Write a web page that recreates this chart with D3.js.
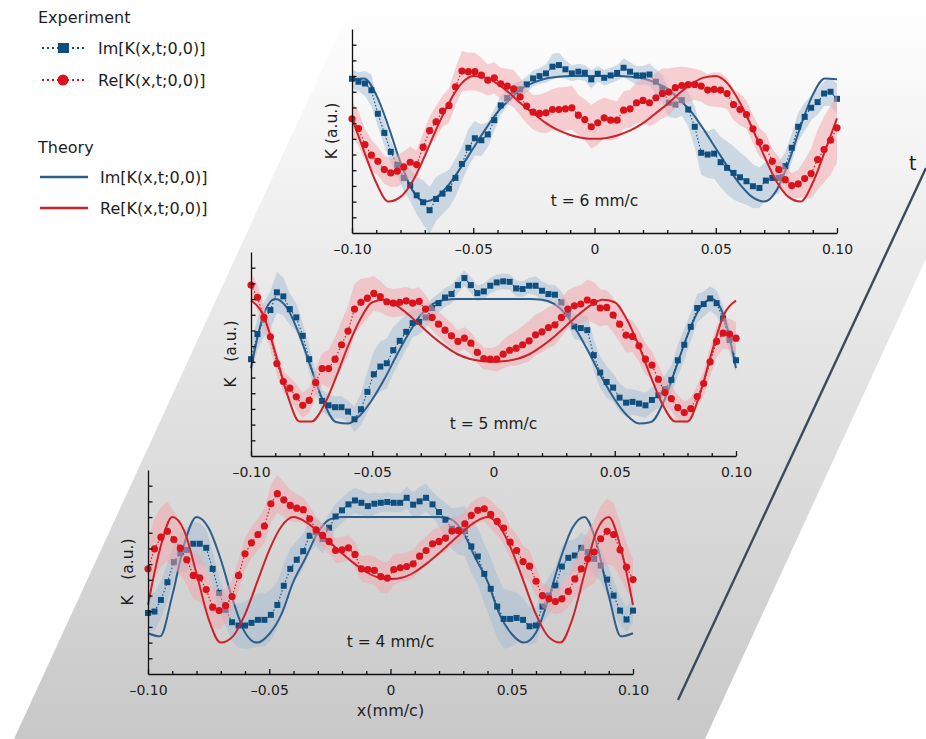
<!DOCTYPE html>
<html>
<head>
<meta charset="utf-8">
<script src="https://cdn.jsdelivr.net/npm/d3@7"></script>
<style>
	body { margin: 0; background: #fff; }
	svg { display: block; font-family: "DejaVu Sans", "Noto Sans", sans-serif; }
</style>
</head>
<body>
<svg id="chart" width="926" height="739"></svg>
<script>
// ****** Data
// experimental points: 76 samples from x = -0.10 to 0.10 mm/c
var panelTimes = [6, 5, 4];
var xTickLabels = [-0.1, -0.05, 0, 0.05, 0.1];
var legendLabels = ['Im[K(x,t;0,0)]', 'Re[K(x,t;0,0)]'];

var imExp6 = [9.83,9.64,9.53,9.1,7.6,6.38,5.17,4.34,3.51,3.04,
	2.4,1.96,1.45,2.17,2.51,2.83,3.51,4.4,5.43,6.04,
	5.91,6.28,7.19,8.13,8.6,9.04,9.15,9.47,9.85,10.0,
	10.17,10.6,10.7,10.43,10.17,10.28,10.21,9.79,10.15,9.89,
	10.04,10.2,10.53,10.28,10.04,10.04,10.1,9.64,9.19,8.3,
	8.19,8.47,7.87,6.77,5.11,5.0,5.06,4.51,4.15,3.83,
	3.55,3.3,2.98,2.87,3.34,3.51,3.51,4.26,5.43,6.77,
	7.4,7.98,8.34,8.89,9.0,8.55];
var reExp6 = [7.28,6.66,5.64,4.96,4.57,4.04,3.83,3.94,4.21,4.51,
	4.36,5.47,6.53,7.09,7.77,8.13,9.32,10.32,10.28,10.28,
	10.06,9.74,9.89,9.51,9.36,9.19,8.68,8.09,7.7,7.62,
	7.66,7.87,7.87,7.91,7.98,7.51,7.23,6.77,7.02,7.34,
	7.19,7.19,7.83,7.91,8.3,8.45,8.3,8.62,8.89,8.98,
	9.26,9.4,9.45,9.47,9.36,9.11,9.15,9.11,8.89,8.19,
	7.87,7.55,6.64,5.79,5.43,4.57,4.04,3.4,3.02,3.13,
	3.47,3.79,4.68,5.32,5.91,6.7];
var imErr6 = [0.6,0.6,0.8,1.0, 0.8,0.8,0.7,0.7,0.8,1.0,
	1.2,1.4,1.5,1.4,1.3,1.2,1.2, 1.1,1.2,1.1,1.0,
	0.8,0.7,0.6,0.5,0.5,0.5,0.5,0.5,0.5,0.6,
	0.8,0.8,0.6,0.5,0.5,0.5,0.6,0.5,0.5,0.5,0.5,0.6,
	0.6,0.6,0.6,0.7,0.8,0.9,0.9,0.9,1.0,1.1,
	1.3,1.4,1.5,1.6,1.6,1.7,1.7,1.6,1.5,1.4,1.3,1.2,1.1,1.0,
	0.9,0.9,0.9,0.9,0.8,0.8,0.8,0.9,1.0];
var reErr6 = [1.1,1.1,1.0,1.0, 0.9,0.9,0.9,1.0,1.0,1.0,0.9,
	0.9,0.9,1.0,1.0,1.1,1.2, 1.3,1.2,1.2,1.1,1.0,1.0,
	1.0,1.1,1.2,1.2,1.1,1.1,1.2,1.3,
	1.3,1.4,1.4,1.4,1.3,1.3,1.4,1.4,1.3,1.3,1.2,1.2,
	1.2,1.3,1.4,1.5,1.6,1.6,1.5,1.3,1.2,1.1,
	1.0,1.0,1.0,1.1,1.1,1.0,1.0,1.0,0.9,
	0.9,0.9,0.9,0.8,0.8,0.8,0.8,0.9,1.2,
	1.6,1.9,2.1,2.2,2.2];

var imExp5 = [6.17,7.77,8.68,9.3,10.43,10.17,9.36,8.83,7.66,6.17,
	4.68,3.51,3.23,3.11,3.11,2.83,2.34,2.98,4.09,5.21,
	5.7,5.91,6.74,7.34,7.91,8.47,8.55,8.83,9.43,9.74,
	10.1,10.32,10.89,11.34,10.89,10.38,10.49,10.85,11.06,11.13,
	11.1,10.68,10.64,10.85,10.85,10.53,10.32,10.28,9.79,9.04,
	8.26,8.15,8.02,6.43,5.32,4.72,4.36,3.72,3.4,3.45,
	3.34,3.23,3.57,3.87,4.26,4.85,6.1,7.09,8.23,9.43,
	9.68,10.04,9.74,8.77,7.4,6.1];
var reExp5 = [10.89,10.11,8.83,7.6,5.89,4.74,4.32,3.77,3.23,3.55,
	4.68,5.57,5.57,6.17,7.09,7.96,9.36,9.79,10.06,10.36,
	10.15,9.83,9.74,9.79,9.89,9.74,9.85,9.36,8.83,8.4,
	8.02,7.66,7.3,7.51,7.19,6.6,6.21,6.17,6.17,6.49,
	6.74,6.87,7.09,7.34,7.72,7.91,8.19,8.36,8.83,9.36,
	9.57,9.68,9.94,9.79,9.43,9.47,8.98,8.4,7.7,7.62,
	7.02,6.17,5.79,4.89,4.04,3.66,3.09,2.77,3.02,3.79,
	4.62,6.0,7.3,7.83,7.77,7.51];
var imErr5 = [1.0,1.0,1.1,1.2, 1.3,1.2,1.0,0.9,0.8,0.8,
	0.7,0.7,0.7,0.7,0.7,0.7,0.8, 1.0,1.3,1.5,1.6,1.6,1.5,1.3,1.1,
	0.9,0.8,0.7,0.6,0.6,0.6,0.6,0.5,0.5,0.5,0.5,0.5,0.5,0.5,0.5,0.5,
	0.5,0.5,0.5,0.6,0.6,0.6,0.6,0.7,0.7,0.8,
	0.8,0.9,1.0,1.0,1.0,0.9,0.9,0.9,0.8,0.8,0.8,0.8,0.8,0.9,0.9,1.0,
	1.0,0.9,0.9,0.8,0.8,0.8,0.8,0.8,0.8];
var reErr5 = [0.8,0.8,0.8,0.8, 0.7,0.7,0.7,0.8,0.8,0.8,
	0.9,1.0,1.2,1.4,1.5,1.6,1.6, 1.5,1.3,1.1,1.0,
	0.9,0.9,0.9,0.9,0.9,0.9,0.9,0.8,0.8,0.8,0.8,
	0.7,0.7,0.7,0.7,0.7,0.7,0.8,0.9,1.0,
	1.1,1.2,1.3,1.3,1.3,1.3,1.3,1.2,1.2,1.2,
	1.2,1.3,1.3,1.2,1.1,1.1,
	1.1,1.1,1.0,1.0,1.0,0.9,0.9,0.9,0.8,0.8,
	0.7,0.7,0.7,0.8,0.9,1.0,1.0,1.0,1.0];

var imExp4 = [3.89,3.98,4.72,5.85,7.13,7.7,7.91,8.3,8.3,8.04,
	6.7,5.17,4.09,3.3,3.09,3.09,3.26,3.45,3.45,3.77,
	4.4,5.62,6.7,7.28,7.83,8.81,9.04,8.6,9.32,10.04,
	10.43,10.81,11.06,10.91,10.7,10.85,10.91,10.96,10.91,10.91,
	11.23,10.79,11.0,11.23,10.81,10.32,9.83,9.26,9.11,9.11,
	8.13,7.49,6.38,5.43,4.3,3.51,3.51,3.57,3.45,3.04,
	3.09,4.3,5.0,5.64,6.85,7.4,7.55,8.04,7.77,7.34,
	6.91,6.02,5.0,4.04,3.47,4.04];
var reExp4 = [6.7,7.98,8.72,9.09,8.57,8.02,7.28,6.28,6.13,5.38,
	4.26,4.04,4.36,4.94,6.28,7.66,8.36,8.89,9.43,10.85,
	11.49,11.1,10.74,10.57,10.47,9.89,9.19,8.83,8.45,7.87,
	7.91,8.04,7.62,6.7,6.66,6.6,6.21,6.11,6.66,6.77,
	6.85,7.02,7.51,7.87,8.3,8.45,8.66,9.11,9.15,9.57,
	10.11,10.43,10.53,10.17,9.72,9.3,8.4,7.87,7.17,6.87,
	5.91,5.0,4.79,4.62,4.79,5.26,6.06,6.7,7.34,7.77,
	8.62,9.09,8.89,7.91,6.81,6.02];
var imErr4 = [1.2,1.2,1.2,1.2, 1.1,1.2,1.4,1.4,1.3,1.2,1.1,1.0,1.0,
	1.2,1.4,1.5,1.6,1.7,1.7,1.6,1.5, 1.4,1.3,1.2,1.1,1.0,
	0.9,0.9,0.9,0.8,0.8,0.8,0.8,0.8,0.8,0.7,
	0.6,0.6,0.6,0.6,0.7,0.8,0.9,0.9,0.8, 0.9,1.1,1.3,1.5,1.6,
	1.7,1.8,1.9,2.0,2.0,1.9,1.8,1.6,1.4,1.2,1.1,
	1.1,1.2,1.2,1.2,1.1,1.0,
	1.0,1.0,1.0,1.0,1.0,1.0,0.9,0.8,0.8];
var reErr4 = [1.8,1.9,1.9,1.9,1.8,1.7, 1.6,1.5,1.5,1.4,1.3,1.2,1.1,
	1.0,1.0,1.0,1.0,1.0, 1.1,1.2,1.2,1.1,1.0,
	0.9,0.8,0.8,0.8,0.8,0.8,0.8,0.8,0.8,0.8,0.8,0.9,0.9,
	1.0,1.0,1.0,0.9,0.9,0.9,0.9,0.9,0.9,
	0.9,0.9,0.9,0.9,0.8,0.8,0.8,0.8,
	0.9,0.9,1.0,1.0,1.0,1.0,1.0,0.9,
	0.8,0.8,0.8,0.9,1.0,1.2,
	1.5,1.8,2.0,2.1,2.1,2.0,1.8,1.5,1.3];

// theory curves: 41 samples, step 0.005 mm/c
var imTheory6 = [9.8,9.85,8.8,6.8,4.5,2.7,2.0,2.3,3.1,4.2,5.4,6.6,7.7,8.5,9.2,9.6,9.85,9.95,10,10,10,
	10,10,9.95,9.85,9.6,9.2,8.5,7.7,6.6,5.4,4.2,3.1,2.3,2.0,2.7,4.5,6.8,8.8,9.85,9.8];
var reTheory6 = [7.3,5.2,3.2,2.0,2.3,3.3,4.9,6.7,8.3,9.5,10.0,9.9,9.5,8.9,8.2,7.6,7.0,6.55,6.25,6.06,6.0,
	6.06,6.25,6.55,7.0,7.6,8.2,8.9,9.5,9.9,10.0,9.5,8.3,6.7,4.9,3.3,2.3,2.0,3.2,5.2,7.3];
var imTheory5 = [5.6,8.9,10.0,9.4,7.7,5.5,3.4,2.17,2.07,2.6,3.6,4.9,6.4,7.8,9.0,9.7,9.95,10,10,10,10,
	10,10,10,9.95,9.7,9.0,7.8,6.4,4.9,3.6,2.6,2.07,2.17,3.4,5.5,7.7,9.4,10.0,8.9,5.6];
var reTheory5 = [9.9,9.0,6.6,3.9,2.2,2.2,3.2,5.0,7.0,8.7,9.8,9.95,9.6,9.0,8.3,7.6,7.0,6.5,6.2,6.05,6.0,
	6.05,6.2,6.5,7.0,7.6,8.3,9.0,9.6,9.95,9.8,8.7,7.0,5.0,3.2,2.2,2.2,3.9,6.6,9.0,9.9];
var imTheory4 = [2.6,2.4,5.0,8.3,10.0,9.3,7.3,4.7,2.65,2.0,2.55,3.8,5.9,7.4,9.0,9.85,10,10,10,10,10,
	10,10,10,10,9.85,9.0,7.4,5.9,3.8,2.55,2.0,2.65,4.7,7.3,9.3,10.0,8.3,5.0,2.4,2.6];
var reTheory4 = [4.4,8.0,10.0,9.1,6.4,3.5,2.0,2.4,3.8,5.85,7.9,9.4,10.0,9.7,9.1,8.4,7.7,7.05,6.5,6.15,6.05,
	6.15,6.5,7.05,7.7,8.4,9.1,9.7,10.0,9.4,7.9,5.85,3.8,2.4,2.0,3.5,6.4,9.1,10.0,8.0,4.4];

// ****** Layout
var svg = d3.select('#chart');
var W = 926, H = 739;
var panelW = 485, panelH = 204;
var panelPos = [
	{left: 352, top: 29},
	{left: 251, top: 252},
	{left: 148, top: 470}
];
var col = {
	imDot: '#0f4f80', imLine: '#2e5e8c', imBand: '#a3bdd3',
	reDot: '#d9121c', reLine: '#d02028', reBand: '#f3a4a9',
	text: '#1e1e1e', axis: '#111'
};

var x = d3.scaleLinear().domain([-0.1, 0.1]).range([0, panelW]);
var y = d3.scaleLinear().domain([0, 13]).range([panelH, 0]);
var expX = d3.range(76).map(function(i) { return -0.1 + i * 0.2 / 75; });
var theoryX = d3.range(41).map(function(i) { return -0.1 + i * 0.005; });

function fmtX(d) {
	if (d === 0) return '0';
	return (d < 0 ? '\u2013' : '') + Math.abs(d).toFixed(2);
}

// ****** Background slab and time axis
var defs = svg.append('defs');
var grad = defs.append('linearGradient').attr('id', 'slab')
	.attr('x1', 0).attr('y1', 0).attr('x2', 0).attr('y2', 1);
grad.append('stop').attr('offset', '0%').attr('stop-color', '#ffffff');
grad.append('stop').attr('offset', '100%').attr('stop-color', '#c8c8c8');

svg.append('polygon')
	.attr('points', [[354, 0], [1045, 0], [705, H], [14, H]].join(' '))
	.attr('fill', 'url(#slab)');

svg.append('line')
	.attr('x1', 678).attr('y1', 700).attr('x2', 926).attr('y2', 168)
	.attr('stroke', '#3b4a5c').attr('stroke-width', 2.4);
svg.append('text').attr('x', 909).attr('y', 170)
	.attr('font-size', 19).attr('fill', col.text).text('t');

// ****** Panels
var panelData = [
	{im: imExp6, re: reExp6, imErr: imErr6, reErr: reErr6, imTh: imTheory6, reTh: reTheory6},
	{im: imExp5, re: reExp5, imErr: imErr5, reErr: reErr5, imTh: imTheory5, reTh: reTheory5},
	{im: imExp4, re: reExp4, imErr: imErr4, reErr: reErr4, imTh: imTheory4, reTh: reTheory4}
];

function drawPanel(k) {
	var pos = panelPos[k], d = panelData[k];
	var g = svg.append('g').attr('transform', 'translate(' + pos.left + ',' + pos.top + ')');

	defs.append('clipPath').attr('id', 'clip' + k)
		.append('rect').attr('width', panelW).attr('height', panelH);

	var band = function(vals, err) {
		return d3.area()
			.x(function(v, i) { return x(expX[i]); })
			.y0(function(v, i) { return y(v - err[i]); })
			.y1(function(v, i) { return y(v + err[i]); })(vals);
	};
	var theory = d3.line().curve(d3.curveMonotoneX)
		.x(function(v, i) { return x(theoryX[i]); })
		.y(function(v) { return y(v); });
	var dotted = d3.line()
		.x(function(v, i) { return x(expX[i]); })
		.y(function(v) { return y(v); });

	// Im first, Re drawn over it
	g.append('path').attr('d', band(d.im, d.imErr)).attr('clip-path', 'url(#clip' + k + ')')
		.attr('fill', col.imBand).attr('fill-opacity', 0.5);
	g.append('path').attr('d', theory(d.imTh)).attr('fill', 'none')
		.attr('stroke', col.imLine).attr('stroke-width', 2);
	g.append('path').attr('d', dotted(d.im)).attr('fill', 'none')
		.attr('stroke', col.imDot).attr('stroke-width', 1.1).attr('stroke-dasharray', '1.5,2');
	g.selectAll('rect.im').data(d.im).enter().append('rect').attr('class', 'im')
		.attr('x', function(v, i) { return x(expX[i]) - 3; })
		.attr('y', function(v) { return y(v) - 3; })
		.attr('width', 6).attr('height', 6).attr('fill', col.imDot);

	g.append('path').attr('d', band(d.re, d.reErr)).attr('clip-path', 'url(#clip' + k + ')')
		.attr('fill', col.reBand).attr('fill-opacity', 0.5);
	g.append('path').attr('d', theory(d.reTh)).attr('fill', 'none')
		.attr('stroke', col.reLine).attr('stroke-width', 2);
	g.append('path').attr('d', dotted(d.re)).attr('fill', 'none')
		.attr('stroke', col.reDot).attr('stroke-width', 1.1).attr('stroke-dasharray', '1.5,2');
	g.selectAll('circle.re').data(d.re).enter().append('circle').attr('class', 're')
		.attr('cx', function(v, i) { return x(expX[i]); })
		.attr('cy', function(v) { return y(v); })
		.attr('r', 3.6).attr('fill', col.reDot);

	// axes, ticks point inward
	var xAxis = g.append('g').attr('transform', 'translate(0,' + panelH + ')')
		.call(d3.axisBottom(x).tickValues(xTickLabels).tickSize(-5).tickSizeOuter(0)
			.tickPadding(11).tickFormat(fmtX));
	var minor = d3.range(-0.09, 0.1, 0.01).filter(function(v) {
		return Math.abs(Math.round(v * 100)) % 5 !== 0;
	});
	var xMinor = g.append('g').attr('transform', 'translate(0,' + panelH + ')')
		.call(d3.axisBottom(x).tickValues(minor).tickSize(-3).tickFormat(''));
	xMinor.select('.domain').remove();
	var yAxis = g.append('g')
		.call(d3.axisLeft(y).tickValues(d3.range(1, 13)).tickSize(-4.5).tickSizeOuter(0).tickFormat(''));

	[xAxis, xMinor, yAxis].forEach(function(a) {
		a.selectAll('path, line').attr('stroke', col.axis).attr('stroke-width', 1.3);
		a.selectAll('text').attr('font-size', 14).attr('fill', col.text)
			.attr('font-family', '"DejaVu Sans", sans-serif');
	});

	g.append('text')
		.attr('transform', 'translate(-20,' + (panelH / 2) + ') rotate(-90)')
		.attr('text-anchor', 'middle').attr('dominant-baseline', 'middle')
		.attr('font-size', 15.5).attr('fill', col.text)
		.text(k === 0 ? 'K (a.u.)' : 'K\u2003(a.u.)');

	g.append('text').attr('x', x(0)).attr('y', 177)
		.attr('text-anchor', 'middle').attr('font-size', 15.5).attr('fill', col.text)
		.text('t = ' + panelTimes[k] + ' mm/c');
}
panelPos.forEach(function(p, k) { drawPanel(k); });

svg.append('text').attr('x', panelPos[2].left + x(0)).attr('y', 716)
	.attr('text-anchor', 'middle').attr('font-size', 16).attr('fill', col.text)
	.text('x(mm/c)');

// ****** Legend
var legend = svg.append('g').attr('font-size', 16).attr('fill', col.text);
legend.append('text').attr('x', 38).attr('y', 23).text('Experiment');
legend.append('text').attr('x', 38).attr('y', 153).text('Theory');

var expRows = [48, 80], thRows = [177, 208];
expRows.forEach(function(ry, i) {
	var c = i === 0 ? col.imDot : col.reDot;
	legend.append('line').attr('x1', 42).attr('x2', 86).attr('y1', ry).attr('y2', ry)
		.attr('stroke', c).attr('stroke-width', 2).attr('stroke-dasharray', '2,3');
	if (i === 0) {
		legend.append('rect').attr('x', 58).attr('y', ry - 5).attr('width', 11).attr('height', 10).attr('fill', c);
	} else {
		legend.append('circle').attr('cx', 63).attr('cy', ry).attr('r', 5.5).attr('fill', c);
	}
	legend.append('text').attr('x', 98).attr('y', ry + 6).text(legendLabels[i]);
});
thRows.forEach(function(ry, i) {
	legend.append('line').attr('x1', 40).attr('x2', 88).attr('y1', ry).attr('y2', ry)
		.attr('stroke', i === 0 ? col.imLine : col.reLine).attr('stroke-width', 2.4);
	legend.append('text').attr('x', 100).attr('y', ry + 6).text(legendLabels[i]);
});
</script>
</body>
</html>
